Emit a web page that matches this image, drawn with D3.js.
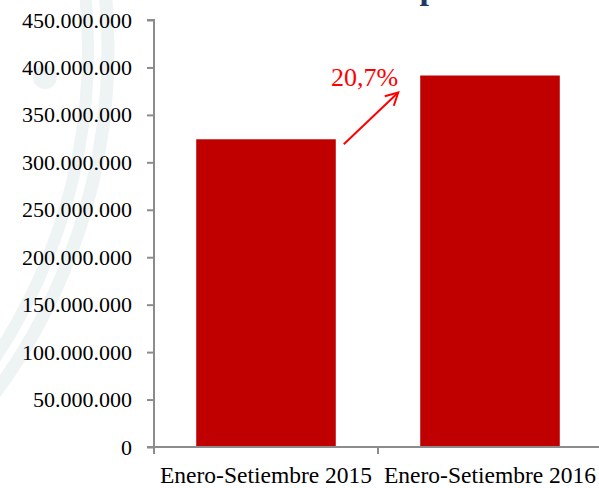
<!DOCTYPE html>
<html>
<head>
<meta charset="utf-8">
<script src="https://cdn.jsdelivr.net/npm/d3@7"></script>
<style>
  html, body { margin: 0; padding: 0; background: #ffffff; }
  svg { display: block; }
  svg text { font-family: "Liberation Serif", "DejaVu Serif", serif; }
</style>
</head>
<body>
<div id="chart"></div>
<script>
// ---- data ----
const categories = ["Enero-Setiembre 2015", "Enero-Setiembre 2016"];
const values = [324300000, 391500000];
const yTicks = [0, 50000000, 100000000, 150000000, 200000000, 250000000, 300000000, 350000000, 400000000, 450000000];
const growthLabel = "20,7%";
const titleFragment = "p";

// ---- layout ----
const W = 599, H = 488;
const svg = d3.select("#chart").append("svg").attr("width", W).attr("height", H);
const font = "Liberation Serif, DejaVu Serif, serif";

// background watermark arcs
const wm = svg.append("g").attr("fill", "none").attr("stroke", "#eef3f3").attr("stroke-linecap", "round");
const arcC = { x: -469, y: 50 };
[[577, 13], [557, 12]].forEach(([r, w]) => {
  wm.append("circle").attr("cx", arcC.x).attr("cy", arcC.y).attr("r", r).attr("stroke-width", w);
});
svg.append("circle").attr("cx", 45).attr("cy", 77).attr("r", 12).attr("fill", "#eef3f3");

// cropped title fragment
svg.append("text").attr("x", 419.5).attr("y", -1)
  .style("font-family", font).attr("font-weight", "bold").attr("font-size", 34)
  .attr("fill", "#1f3864").text(titleFragment);

const x0 = 154, x1 = 602, yTop = 20, yBot = 447;
const x = d3.scaleBand().domain(categories).range([x0, x1]).paddingInner(0.377).paddingOuter(0.1885);
const y = d3.scaleLinear().domain([0, 450000000]).range([yBot, yTop]);

const fmt = v => d3.format(",")(v).replace(/,/g, ".");
const axisColor = "#8c8c8c";

// bars
svg.append("g").selectAll("rect").data(values).join("rect")
  .attr("x", (d, i) => x(categories[i]))
  .attr("y", d => y(d))
  .attr("width", x.bandwidth())
  .attr("height", d => y(0) - y(d))
  .attr("fill", "#c00000");

// y axis
const yAxis = svg.append("g").attr("transform", `translate(${x0},0)`)
  .call(d3.axisLeft(y).tickValues(yTicks).tickFormat(fmt).tickSize(7).tickPadding(15));
yAxis.attr("font-family", null).attr("font-size", null);
yAxis.select(".domain").attr("stroke", axisColor).attr("stroke-width", 2)
  .attr("d", `M-7,${yTop}H0V${yBot}`);
yAxis.selectAll(".tick line").attr("stroke", axisColor).attr("stroke-width", 2);
yAxis.selectAll(".tick text").style("font-family", font).attr("font-size", 22)
  .attr("fill", "#000").attr("dy", "0.32em");

// x axis
const xAxis = svg.append("g").attr("transform", `translate(0,${yBot})`)
  .call(d3.axisBottom(x).tickSize(0).tickPadding(19));
xAxis.attr("font-family", null).attr("font-size", null);
xAxis.select(".domain").attr("stroke", axisColor).attr("stroke-width", 2)
  .attr("d", `M${x0 - 7},0H${W + 5}`);
xAxis.selectAll(".tick text").style("font-family", font).attr("font-size", 23.5).attr("fill", "#000");
// category boundary ticks
const bounds = categories.map(c => x(c) - x.step() * x.paddingOuter()).concat([x1]);
xAxis.selectAll(".bound").data(bounds).join("line").attr("class", "bound")
  .attr("x1", d => d).attr("x2", d => d).attr("y1", 0).attr("y2", 7)
  .attr("stroke", axisColor).attr("stroke-width", 2);

// growth annotation
const bx1 = x(categories[0]) + x.bandwidth();
const bx2 = x(categories[1]);
const tail = [bx1 + 8, y(values[0]) + 5];
const head = [bx2 - 22, y(values[1]) + 17];
const ang = Math.atan2(head[1] - tail[1], head[0] - tail[0]);
const wl = 14, wa = 28 * Math.PI / 180;
const w1 = [head[0] - wl * Math.cos(ang - wa), head[1] - wl * Math.sin(ang - wa)];
const w2 = [head[0] - wl * Math.cos(ang + wa), head[1] - wl * Math.sin(ang + wa)];
const ann = svg.append("g").attr("stroke", "#ff0000").attr("stroke-width", 2).attr("fill", "none");
ann.append("line").attr("x1", tail[0]).attr("y1", tail[1]).attr("x2", head[0]).attr("y2", head[1]);
ann.append("path").attr("d", `M${w1[0]},${w1[1]}L${head[0]},${head[1]}L${w2[0]},${w2[1]}`)
  .attr("stroke-linejoin", "miter");
svg.append("text").attr("x", head[0]).attr("y", y(values[1]) + 10)
  .attr("text-anchor", "end").style("font-family", font).attr("font-size", 26)
  .attr("fill", "#ff0000").text(growthLabel);
</script>
</body>
</html>
